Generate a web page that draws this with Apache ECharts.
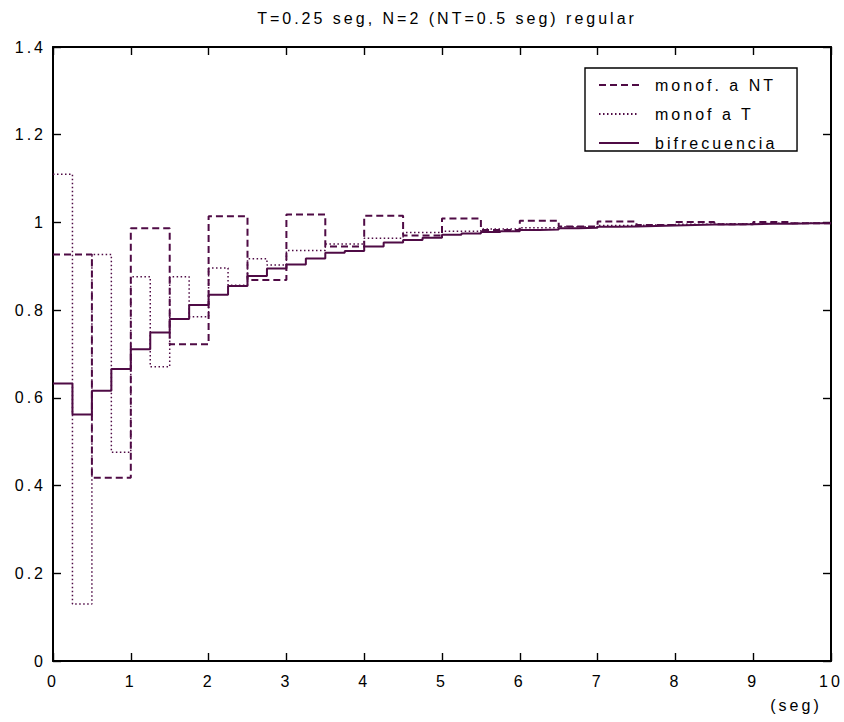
<!DOCTYPE html>
<html>
<head>
<meta charset="utf-8">
<script src="https://cdn.jsdelivr.net/npm/echarts@6/dist/echarts.min.js"></script>
<style>
  html, body { margin: 0; padding: 0; background: #fff; }
  #chart { width: 844px; height: 722px; }
  /* wide tracking on all chart text */
  #chart svg text { letter-spacing: 3px; }
</style>
</head>
<body>
<div id="chart"></div>
<script>
// Sampling periods (seconds)
const T = 0.25;
const NT = 0.5;

// Single-rate controller at NT (held over each 0.5 s period)
const monofNT = [0.927, 0.418, 0.987, 0.722, 1.014, 0.869, 1.018, 0.945, 1.015, 0.970,
                 1.009, 0.983, 1.004, 0.991, 1.002, 0.994, 1.001, 0.996, 1.001, 0.998];

// Single-rate controller at T (held over each 0.25 s period)
const monofT = [1.110, 0.130, 0.927, 0.476, 0.876, 0.671, 0.876, 0.785, 0.896, 0.857,
                0.917, 0.903, 0.936, 0.936, 0.951, 0.951, 0.964, 0.964, 0.977, 0.977,
                0.980, 0.980, 0.985, 0.985, 0.988, 0.988, 0.990, 0.990, 0.993, 0.993,
                0.994, 0.994, 0.996, 0.996, 0.997, 0.997, 0.998, 0.998, 0.998, 0.998];

// Dual-rate controller (held over each 0.25 s period)
const bifrecuencia = [0.633, 0.562, 0.616, 0.666, 0.711, 0.749, 0.780, 0.812, 0.835, 0.855,
                      0.878, 0.895, 0.904, 0.918, 0.931, 0.935, 0.945, 0.954, 0.960, 0.965,
                      0.972, 0.975, 0.978, 0.980, 0.983, 0.984, 0.987, 0.988, 0.990, 0.991,
                      0.992, 0.993, 0.994, 0.995, 0.995, 0.996, 0.997, 0.997, 0.998, 0.998];

const seriesNames = ['monof. a NT', 'monof a T', 'bifrecuencia'];
const xTicks = [0, 1, 2, 3, 4, 5, 6, 7, 8, 9, 10];
const yTicks = [0, 0.2, 0.4, 0.6, 0.8, 1, 1.2, 1.4];

// Zero-order hold: each sample is held until the next one, the last one until t = 10
function held(values, period) {
  const pts = values.map((v, k) => [k * period, v]);
  pts.push([values.length * period, values[values.length - 1]]);
  return pts;
}

const color = '#4f0b45';
const font = 'Liberation Sans, Arial, Helvetica, sans-serif';
const fs = 16;

const chart = echarts.init(document.getElementById('chart'), null, { renderer: 'svg' });

// Boxed axes: ticks point inward on all four sides
const axisLine = { show: true, onZero: false, lineStyle: { color: '#000', width: 2 } };
const tickStyle = { show: true, inside: true, length: 8, lineStyle: { color: '#000', width: 1.4 } };

chart.setOption({
  animation: false,
  backgroundColor: '#fff',
  textStyle: { fontFamily: font },
  title: {
    text: 'T=0.25 seg, N=2 (NT=0.5 seg) regular',
    left: 442, textAlign: 'center', top: 5,
    textStyle: { fontSize: fs, fontWeight: 'normal', color: '#000', fontFamily: font }
  },
  grid: { left: 53, right: 13, top: 47, bottom: 61, containLabel: false },
  legend: {
    orient: 'vertical',
    left: 585, top: 68,
    data: seriesNames,
    itemWidth: 40, itemHeight: 16, itemGap: 13,
    // extra right padding leaves room for the tracked-out text
    padding: [9, 54, 0, 13],
    backgroundColor: '#fff',
    borderColor: '#000', borderWidth: 1.4,
    itemStyle: { opacity: 0 },
    textStyle: { fontSize: fs, color: '#000', padding: [0, 0, 0, 11], fontFamily: font },
    selectedMode: false
  },
  xAxis: [
    {
      type: 'value', min: 0, max: 10, interval: 1, position: 'bottom',
      axisLine, axisTick: tickStyle, splitLine: { show: false },
      axisLabel: { color: '#000', fontSize: fs, margin: 12, fontFamily: font,
        customValues: xTicks, formatter: v => String(v) }
    },
    {
      type: 'value', min: 0, max: 10, interval: 1, position: 'top',
      axisLine, axisTick: tickStyle, splitLine: { show: false },
      axisLabel: { show: false }
    }
  ],
  yAxis: [
    {
      type: 'value', min: 0, max: 1.4, interval: 0.2, position: 'left',
      axisLine, axisTick: tickStyle, splitLine: { show: false },
      axisLabel: { color: '#000', fontSize: fs, margin: 7, fontFamily: font,
        customValues: yTicks, formatter: v => String(+v.toFixed(1)) }
    },
    {
      type: 'value', min: 0, max: 1.4, interval: 0.2, position: 'right',
      axisLine, axisTick: tickStyle, splitLine: { show: false },
      axisLabel: { show: false }
    }
  ],
  graphic: [
    {
      type: 'text', x: 796, y: 705,
      style: { text: '(seg)', fill: '#000', font: fs + 'px ' + font,
        textAlign: 'center', textVerticalAlign: 'middle' }
    }
  ],
  series: [
    {
      name: seriesNames[0], type: 'line', step: 'end', symbol: 'none',
      data: held(monofNT, NT),
      lineStyle: { color, width: 2, type: [7, 4] },
      itemStyle: { color }
    },
    {
      name: seriesNames[1], type: 'line', step: 'end', symbol: 'none',
      data: held(monofT, T),
      lineStyle: { color, width: 1.5, type: [1.5, 2.5] },
      itemStyle: { color }
    },
    {
      name: seriesNames[2], type: 'line', step: 'end', symbol: 'none',
      data: held(bifrecuencia, T),
      lineStyle: { color, width: 2, type: 'solid' },
      itemStyle: { color }
    }
  ]
});
</script>
</body>
</html>
